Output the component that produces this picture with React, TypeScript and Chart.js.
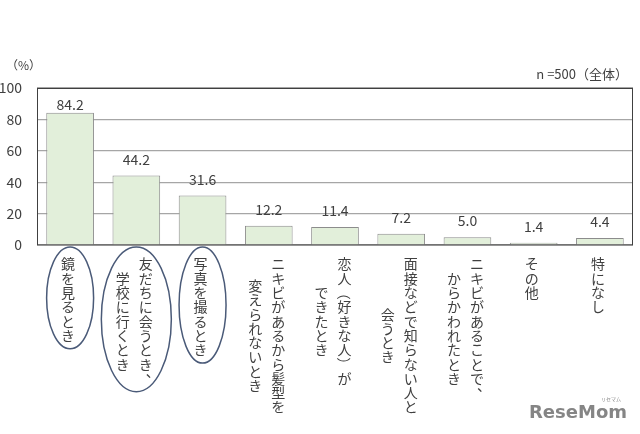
import React, { useEffect, useRef } from "react";
import { Chart, registerables } from "chart.js";

Chart.register(...registerables);

// ---- data ----
const categories: string[][] = [
  ["鏡を見るとき"],
  ["友だちに会うとき、", "学校に行くとき"],
  ["写真を撮るとき"],
  ["ニキビがあるから髪型を", "変えられないとき"],
  ["恋人（好きな人）が", "できたとき"],
  ["面接などで知らない人と", "会うとき"],
  ["ニキビがあることで、", "からかわれたとき"],
  ["その他"],
  ["特になし"],
];
const values = [84.2, 44.2, 31.6, 12.2, 11.4, 7.2, 5.0, 1.4, 4.4];
const circled = [true, true, true, false, false, false, false, false, false];
const yMin = 0;
const yMax = 100;
const yStep = 20;
const unitLabel = "（%）";
const sampleLabel = "n =500（全体）";
const watermark = "ReseMom";
const watermarkSmall = "リセマム";

const FONT = '"Noto Sans CJK JP", "Noto Sans", sans-serif';
const TEXT = "#404040";

const overlay = {
  id: "overlay",
  afterDatasetsDraw(chart: any) {
    const { ctx, chartArea } = chart;
    const meta = chart.getDatasetMeta(0);
    const xs = chart.scales.x;
    ctx.save();

    // plot frame
    ctx.strokeStyle = "#404040";
    ctx.lineWidth = 1;
    ctx.strokeRect(
      Math.round(chartArea.left) + 0.5,
      Math.round(chartArea.top) + 0.5,
      Math.round(chartArea.width) - 1,
      Math.round(chartArea.height) - 0.5
    );

    // value labels
    ctx.font = `14px ${FONT}`;
    ctx.fillStyle = TEXT;
    ctx.textAlign = "center";
    ctx.textBaseline = "middle";
    meta.data.forEach((bar: any, i: number) => {
      let y = bar.y - 16;
      if (y < chartArea.top + 18) y = bar.y - 8;
      ctx.fillText(values[i].toFixed(1), bar.x, y);
    });

    // vertical category labels
    const step = 14.3;
    const top = chartArea.bottom + 12;
    const colGap = 23;
    ctx.font = `14px ${FONT}`;
    categories.forEach((cols, i) => {
      const cx = xs.getPixelForValue(i) - 2;
      const maxLen = Math.max(...cols.map((c) => [...c].length));
      cols.forEach((col, j) => {
        const x = cx + ((cols.length - 1) / 2 - j) * colGap;
        const chars = [...col];
        const offset = ((maxLen - chars.length) / 2) * step;
        chars.forEach((ch, k) => {
          const y = top + offset + k * step + step / 2;
          if (ch === "（" || ch === "）") {
            ctx.save();
            ctx.translate(x, y);
            ctx.rotate(Math.PI / 2);
            ctx.fillText(ch, 0, 0);
            ctx.restore();
          } else if (ch === "、" || ch === "。") {
            ctx.fillText(ch, x + 7, y - 7);
          } else {
            ctx.fillText(ch, x, y);
          }
        });
      });
      if (circled[i]) {
        const rx = (cols.length * colGap) / 2 + 12;
        const y0 = top - 10;
        const y1 = top + maxLen * step + 6;
        ctx.beginPath();
        ctx.ellipse(cx + 2, (y0 + y1) / 2, rx, (y1 - y0) / 2, 0, 0, Math.PI * 2);
        ctx.strokeStyle = "#4a5a78";
        ctx.lineWidth = 1.5;
        ctx.stroke();
      }
    });

    // annotations
    ctx.fillStyle = TEXT;
    ctx.font = `12px ${FONT}`;
    ctx.textAlign = "left";
    ctx.fillText(unitLabel, 6, 65);
    ctx.font = `13px ${FONT}`;
    ctx.textAlign = "right";
    ctx.fillText(sampleLabel, 628, 74);

    // watermark
    ctx.fillStyle = "#858585";
    ctx.font = `bold 18px "DejaVu Sans", sans-serif`;
    ctx.textAlign = "right";
    ctx.textBaseline = "alphabetic";
    ctx.fillText(watermark, 627, 418);
    ctx.font = `5px ${FONT}`;
    ctx.fillText(watermarkSmall, 621, 401);

    ctx.restore();
  },
};

export default function App() {
  const ref = useRef<HTMLCanvasElement | null>(null);
  useEffect(() => {
    document.body.style.margin = "0";
    const canvas = ref.current!;
    const chart = new Chart(canvas, {
      type: "bar",
      data: {
        labels: categories.map((c) => c.join("")),
        datasets: [
          {
            data: values,
            backgroundColor: "#e2efda",
            borderColor: "#8c8c8c",
            borderWidth: 1,
            barPercentage: 0.9,
            categoryPercentage: 0.8,
          },
        ],
      },
      options: {
        responsive: false,
        animation: false,
        devicePixelRatio: 1,
        layout: { padding: { top: 88, right: 7, left: 0, bottom: 0 } },
        plugins: { legend: { display: false }, tooltip: { enabled: false } },
        scales: {
          x: {
            grid: { display: false },
            border: { display: false },
            ticks: { display: false },
            afterFit: (s: any) => {
              s.height = 189;
            },
          },
          y: {
            min: yMin,
            max: yMax,
            ticks: {
              stepSize: yStep,
              padding: 15,
              color: TEXT,
              font: { size: 14, family: FONT },
            },
            grid: { color: "#a6a6a6", lineWidth: 1.2, drawTicks: false },
            border: { display: false },
            afterFit: (s: any) => {
              s.width = 37;
            },
          },
        },
      },
      plugins: [overlay],
    });
    return () => chart.destroy();
  }, []);
  return (
    <div style={{ width: 640, height: 434, background: "#fff" }}>
      <canvas ref={ref} width={640} height={434} />
    </div>
  );
}
